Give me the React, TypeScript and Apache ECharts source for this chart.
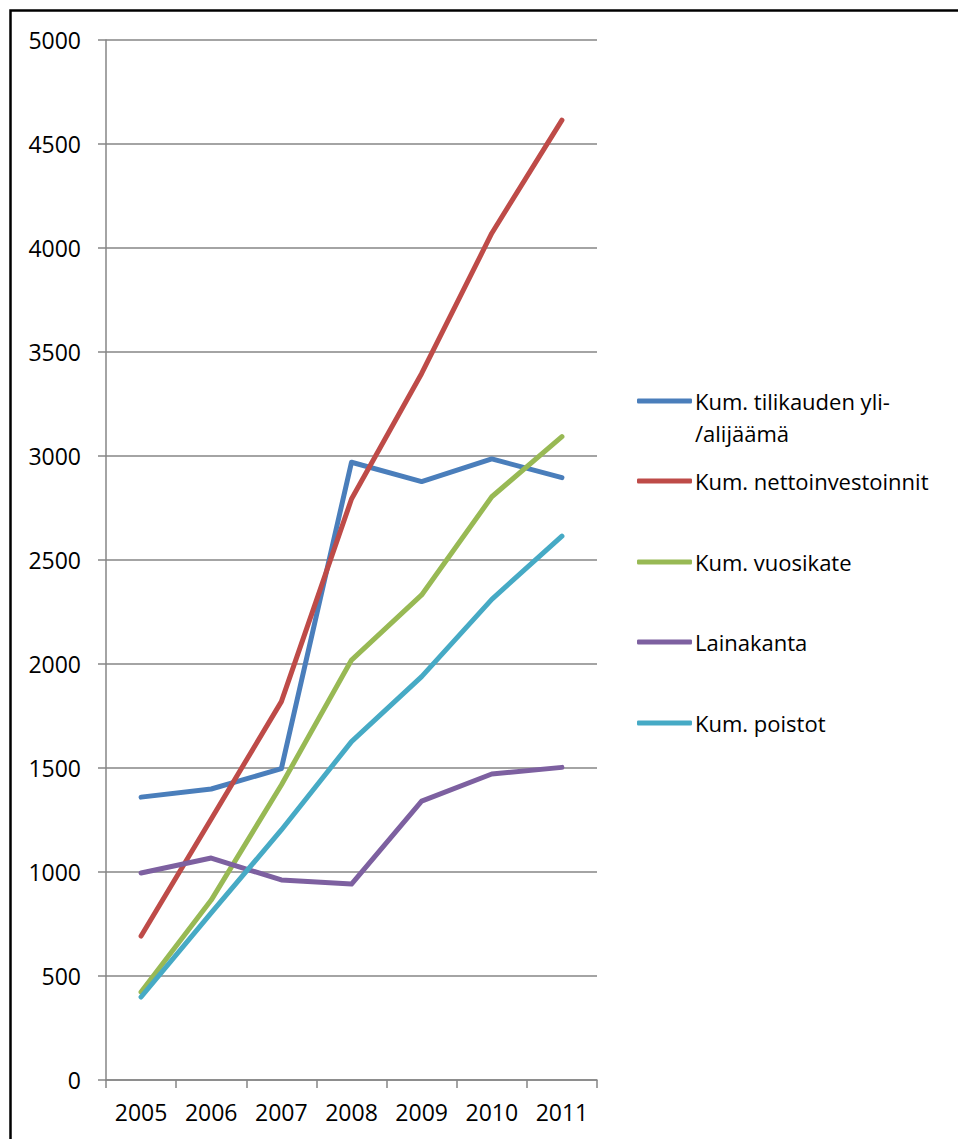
import React, { useEffect, useRef } from "react";
import * as echarts from "echarts";

const years = ["2005", "2006", "2007", "2008", "2009", "2010", "2011"];
const ylijaama = [1360, 1399, 1497, 2970, 2877, 2986, 2896];
const nettoinvestoinnit = [692, 1255, 1819, 2793, 3397, 4071, 4615];
const vuosikate = [423, 865, 1418, 2019, 2332, 2804, 3093];
const lainakanta = [995, 1067, 962, 942, 1341, 1471, 1503];
const poistot = [399, 803, 1202, 1627, 1939, 2311, 2615];

const seriesNames = [
  "Kum. tilikauden yli-/alijäämä",
  "Kum. nettoinvestoinnit",
  "Kum. vuosikate",
  "Lainakanta",
  "Kum. poistot",
];
const seriesData = [ylijaama, nettoinvestoinnit, vuosikate, lainakanta, poistot];
const colors = ["#4A7EBB", "#BE4B48", "#98B954", "#7D60A0", "#46AAC5"];
const legendCenters = [401, 481, 562, 642, 723];

const FONT = "'Open Sans', 'Noto Sans', sans-serif";

export default function App() {
  const ref = useRef<HTMLDivElement>(null);
  useEffect(() => {
    if (!ref.current) return;
    const chart = echarts.init(ref.current, undefined, { renderer: "svg" });
    const legends = seriesNames.map((name, i) => ({
      data: [name],
      left: 637,
      top: legendCenters[i] - 12,
      orient: "vertical",
      padding: 0,
      icon: "roundRect",
      itemWidth: 55,
      itemHeight: 5,
      itemGap: 0,
      selectedMode: false,
      formatter: (n: string) => (i === 0 ? "Kum. tilikauden yli-" : n),
      textStyle: {
        fontFamily: FONT,
        fontSize: 22,
        color: "#000",
        lineHeight: 24,
        padding: [0, 0, 0, -2],
      },
    }));
    chart.setOption({
      animation: false,
      backgroundColor: "#fff",
      color: colors,
      legend: legends,
      graphic: [
        {
          type: "rect",
          shape: { x: 10.5, y: 10.5, width: 980, height: 1160 },
          style: { fill: "none", stroke: "#000", lineWidth: 2.5 },
          silent: true,
        },
        {
          type: "text",
          left: 695,
          top: 433 - 12,
          style: {
            text: "/alijäämä",
            fontFamily: FONT,
            fontSize: 22,
            fill: "#000",
            lineHeight: 24,
          },
        },
      ],
      grid: { left: 106, top: 40, width: 491, height: 1040, containLabel: false },
      xAxis: {
        type: "category",
        data: years,
        boundaryGap: true,
        axisLine: { lineStyle: { color: "#868686", width: 1.5 } },
        axisTick: { show: true, length: 8, lineStyle: { color: "#868686", width: 1.5 } },
        axisLabel: { color: "#000", fontFamily: FONT, fontSize: 23, margin: 20 },
        splitLine: { show: false },
      },
      yAxis: {
        type: "value",
        min: 0,
        max: 5000,
        interval: 500,
        axisLine: { show: true, lineStyle: { color: "#868686", width: 1.5 } },
        axisTick: { show: true, length: 8, lineStyle: { color: "#868686", width: 1.5 } },
        axisLabel: {
          color: "#000",
          fontFamily: FONT,
          fontSize: 23,
          margin: 25,
          formatter: (v: number) => String(v),
        },
        splitLine: { show: true, lineStyle: { color: "#868686", width: 1.5 } },
      },
      series: seriesNames.map((name, i) => ({
        name,
        type: "line",
        data: seriesData[i],
        symbol: "none",
        showSymbol: false,
        lineStyle: { width: 5, color: colors[i], cap: "round", join: "round" },
        itemStyle: { color: colors[i] },
      })),
    });
    return () => chart.dispose();
  }, []);
  return (
    <div
      ref={ref}
      style={{ position: "absolute", left: 0, top: 0, width: 958, height: 1139 }}
    />
  );
}
